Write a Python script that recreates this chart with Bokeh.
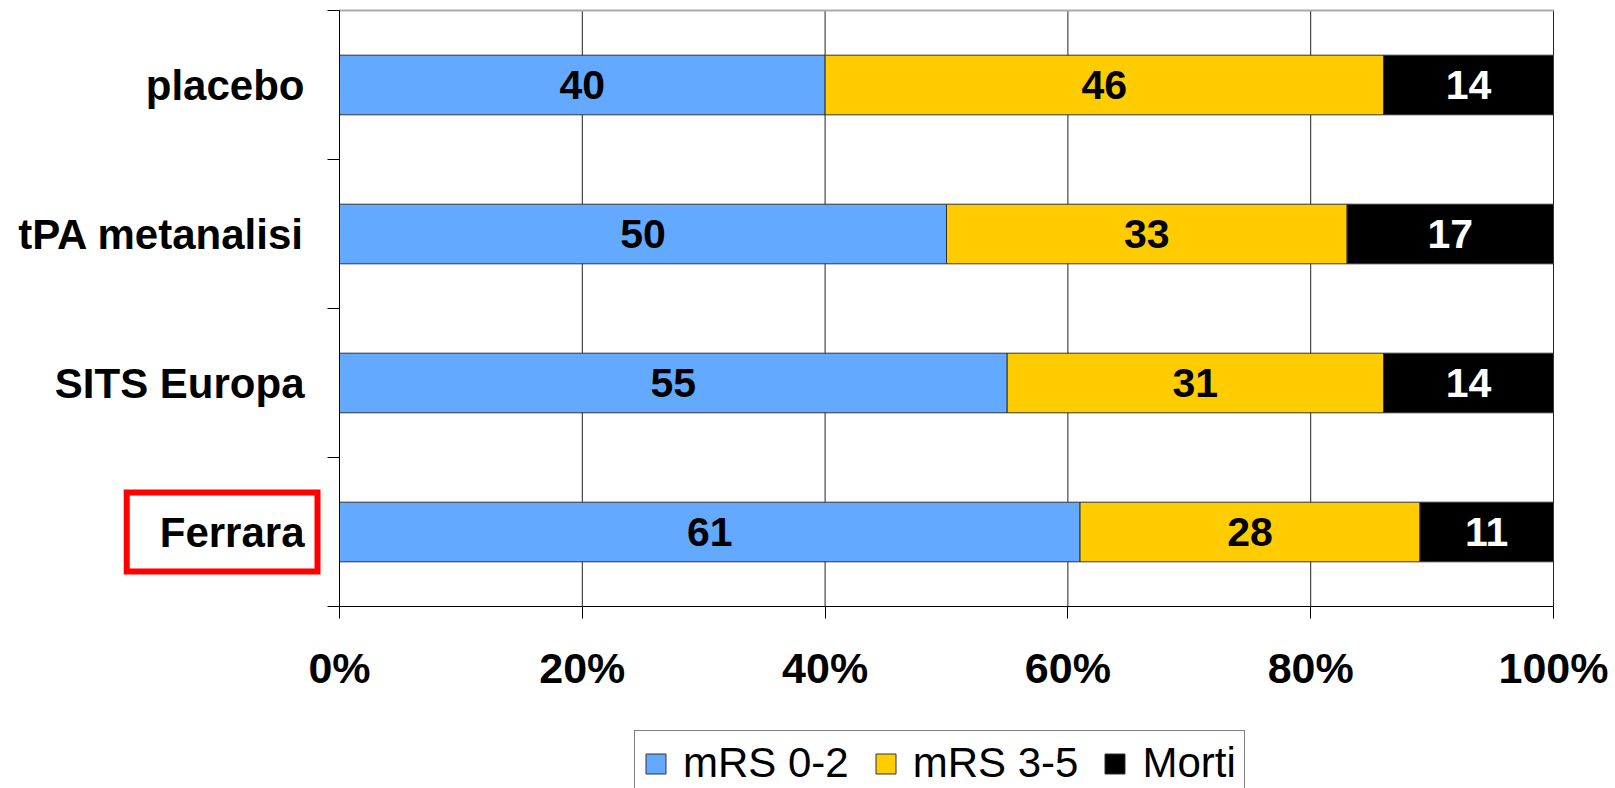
from bokeh.plotting import figure
from bokeh.models import (ColumnDataSource, Range1d, FixedTicker, Legend, LegendItem, Label, LinearAxis)
from bokeh.core.properties import value
from bokeh.embed import file_html
from bokeh.resources import INLINE

# ---- data ----
categories = ["placebo", "tPA metanalisi", "SITS Europa", "Ferrara"]
mrs_0_2 = [40, 50, 55, 61]
mrs_3_5 = [46, 33, 31, 28]
morti = [14, 17, 14, 11]
series_names = ["mRS 0-2", "mRS 3-5", "Morti"]
x_ticks = [0, 20, 40, 60, 80, 100]
x_tick_labels = ["0%", "20%", "40%", "60%", "80%", "100%"]
highlight = "Ferrara"

FONT = "Liberation Sans"
COLORS = ["#63A9FF", "#FFCC00", "#000000"]
TEXT_COLORS = ["#000000", "#000000", "#FFFFFF"]

n = len(categories)
ypos = [n - i - 0.5 for i in range(n)]

# ---- layout (pixels) ----
W, H = 1615, 788
X0, X1 = 339, 1553      # pixel position of 0% and 100%
YT, YB = 10, 606        # pixel position of top / bottom of category band
px_per_x = (X1 - X0) / 100.0
px_per_y = (YB - YT) / n
x_start = -X0 / px_per_x
x_end = 100 + (W - X1) / px_per_x
y_start = -(H - YB) / px_per_y
y_end = n + YT / px_per_y

src = ColumnDataSource(dict(y=ypos, cat=categories, a=mrs_0_2, b=mrs_3_5, c=morti))

p = figure(width=W, height=H, output_backend="svg", toolbar_location=None,
           x_range=Range1d(x_start, x_end), y_range=Range1d(y_start, y_end),
           min_border=0, min_border_left=0, min_border_right=0,
           min_border_top=0, min_border_bottom=0, x_axis_location=None, y_axis_location=None)
p.background_fill_color = "white"
p.border_fill_color = "white"
p.outline_line_color = None
p.xgrid.visible = False
p.ygrid.visible = False

# vertical grid lines restricted to the category band
p.segment(x0=x_ticks, y0=[0] * len(x_ticks), x1=x_ticks, y1=[n] * len(x_ticks),
          line_color="#222222", line_width=1)

renderers = p.hbar_stack(["a", "b", "c"], y="y", height=0.4, source=src,
                         fill_color=COLORS, line_color="#333333", line_width=1)

# value labels
lefts = [0] * n
for k, vals in enumerate([mrs_0_2, mrs_3_5, morti]):
    mids = [lefts[i] + vals[i] / 2 for i in range(n)]
    lsrc = ColumnDataSource(dict(x=mids, y=ypos, t=[str(v) for v in vals]))
    p.text(x="x", y="y", text="t", source=lsrc, text_align="center", text_baseline="middle",
           text_font=value(FONT), text_font_style="bold", text_font_size="41px",
           text_color=TEXT_COLORS[k])
    lefts = [lefts[i] + vals[i] for i in range(n)]

# x axis (bottom)
xaxis = LinearAxis(fixed_location=0, bounds=(0, 100))
xaxis.ticker = FixedTicker(ticks=x_ticks)
xaxis.major_label_overrides = {t: l for t, l in zip(x_ticks, x_tick_labels)}
xaxis.major_label_text_font = FONT
xaxis.major_label_text_font_style = "bold"
xaxis.major_label_text_font_size = "43px"
xaxis.major_label_text_color = "black"
xaxis.major_tick_out = 12
xaxis.major_tick_in = 0
xaxis.minor_tick_line_color = None
xaxis.major_label_standoff = 25
xaxis.axis_line_color = "black"
xaxis.major_tick_line_color = "black"
p.add_layout(xaxis, "below")

# top border line
topaxis = LinearAxis(fixed_location=n, bounds=(0, 100))
topaxis.ticker = FixedTicker(ticks=[])
topaxis.major_label_text_font_size = "0px"
topaxis.major_tick_line_color = None
topaxis.minor_tick_line_color = None
topaxis.axis_line_color = "#aaaaaa"
topaxis.axis_line_width = 2
p.add_layout(topaxis, "above")

# y axis (left)
yaxis = LinearAxis(fixed_location=0, bounds=(0, n))
yaxis.ticker = FixedTicker(ticks=ypos, minor_ticks=[float(i) for i in range(n + 1)])
yaxis.major_label_overrides = {y: ("" if c == highlight else c) for y, c in zip(ypos, categories)}
yaxis.major_label_text_font = FONT
yaxis.major_label_text_font_style = "bold"
yaxis.major_label_text_font_size = "42px"
yaxis.major_label_text_color = "black"
yaxis.major_tick_line_color = None
yaxis.major_tick_out = 12
yaxis.major_tick_in = 0
yaxis.minor_tick_line_color = "black"
yaxis.minor_tick_out = 12
yaxis.minor_tick_in = 0
yaxis.major_label_standoff = 23
yaxis.axis_line_color = "black"
p.add_layout(yaxis, "left")

# highlighted category label with red frame
hi = categories.index(highlight)
lab = Label(x=(317 - X0) / px_per_x, y=ypos[hi], text=highlight, text_align="right",
            text_baseline="middle",
            text_font=FONT, text_font_style="bold", text_font_size="42px", text_color="black",
            border_line_color="#FF0000", border_line_width=6, border_line_join="miter",
            padding=dict(top=16, right=13, bottom=16, left=33))
p.add_layout(lab)

legend = Legend(items=[LegendItem(label=series_names[k], renderers=[renderers[k]]) for k in range(3)],
                orientation="horizontal", location=(634, -8))
legend.label_text_font = FONT
legend.label_text_font_size = "42px"
legend.label_text_color = "black"
legend.glyph_width = 25
legend.glyph_height = 25
legend.label_standoff = 15
legend.spacing = 24
legend.padding = 8
legend.margin = 0
legend.border_line_color = "black"
legend.border_line_width = 1
legend.background_fill_color = "white"
legend.background_fill_alpha = 1
p.add_layout(legend)

open("out.html", "w").write(file_html(p, INLINE))
